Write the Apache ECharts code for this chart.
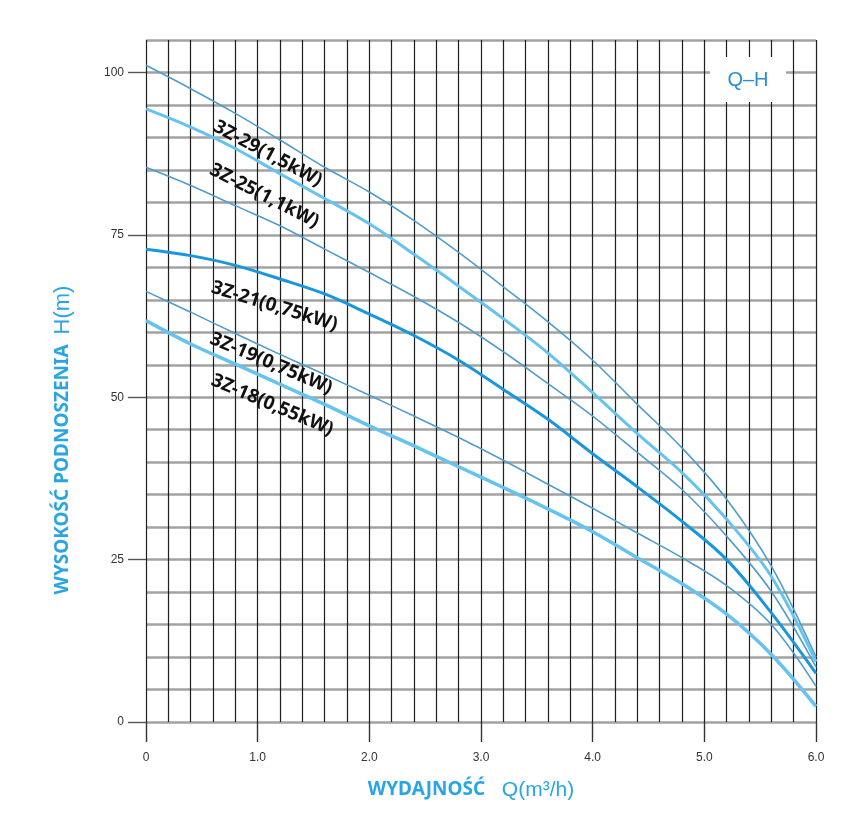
<!DOCTYPE html>
<html>
<head>
<meta charset="utf-8">
<script src="https://cdn.jsdelivr.net/npm/echarts@6/dist/echarts.min.js"></script>
<style>
html,body{margin:0;padding:0;background:#fff;}
#c{width:858px;height:818px;}
</style>
</head>
<body>
<div id="c"></div>
<script>
// Flow rate Q (m3/h) sample points
const q = [0, 0.4, 0.8, 1.2, 1.6, 2.0, 2.4, 2.8, 3.2, 3.6, 4.0, 4.4, 4.8, 5.2, 5.6, 6.0];
// Head H (m) for each curve, top to bottom
const hA = [101.1, 97.5, 93.7, 89.6, 85.4, 81.6, 77.2, 72.3, 67.0, 61.6, 55.7, 48.9, 42.2, 34.3, 24.0, 10.0];
const hB = [94.4, 91.6, 88.3, 84.4, 80.6, 76.7, 72.0, 67.1, 62.1, 56.8, 50.7, 44.4, 38.4, 31.2, 22.4, 9.3];
const hC = [85.4, 82.6, 79.5, 76.4, 72.8, 69.2, 65.5, 61.5, 57.0, 52.1, 47.1, 41.5, 35.8, 28.6, 20.1, 8.5];
const hD = [72.8, 71.8, 70.3, 68.2, 65.9, 62.8, 59.5, 55.7, 51.2, 46.6, 41.3, 36.2, 30.9, 25.0, 16.8, 7.5];
const hE = [66.3, 63.1, 59.8, 56.6, 53.5, 50.3, 47.1, 43.8, 40.3, 36.6, 32.9, 29.1, 25.3, 21.0, 15.0, 5.5];
const hF = [61.8, 58.2, 55.1, 52.0, 48.9, 45.6, 42.5, 39.3, 36.1, 32.8, 29.3, 25.3, 21.3, 16.6, 10.4, 2.4];

const xTicks = [0, 1, 2, 3, 4, 5, 6];
const yTicks = [0, 25, 50, 75, 100];

const curveLabels = ['3Z-29(1,5kW)', '3Z-25(1,1kW)', '3Z-21(0,75kW)', '3Z-19(0,75kW)', '3Z-18(0,55kW)'];
// label anchor in data coords [Q, H] and rotation (deg)
const labelAnchors = [[1.09, 87.5, 28], [1.06, 81.0, 27], [1.15, 64.0, 17], [1.12, 55.2, 23], [1.13, 48.8, 23]];

const BLUE = '#2aa5e3';
const thin = {color: '#4f9dcc', width: 1.6};
const light = {color: '#66c3ef', width: 3};
const bright = {color: '#1897de', width: 3};

function pairs(h) { return q.map((v, i) => [v, h[i]]); }
function mk(h, st) {
  return {type: 'line', data: pairs(h), showSymbol: false, smooth: 0.35,
    xAxisIndex: 0, yAxisIndex: 0,
    lineStyle: {color: st.color, width: st.width}, itemStyle: {color: st.color}, z: 5, silent: true};
}

const chart = echarts.init(document.getElementById('c'), null, {renderer: 'canvas'});
const option = {
  backgroundColor: '#fff',
  animation: false,
  grid: {left: 146, right: 42, top: 40, bottom: 96},
  xAxis: [{
    type: 'value', min: 0, max: 6, interval: 0.2,
    axisLine: {show: false}, axisTick: {show: false}, axisLabel: {show: false},
    splitLine: {show: true, lineStyle: {color: '#1e1e1e', width: 1.2}}
  }, {
    type: 'value', min: 0, max: 6, position: 'bottom',
    axisLine: {show: false}, splitLine: {show: false},
    axisTick: {show: true, customValues: xTicks, length: 20, lineStyle: {color: '#333', width: 1.4}},
    axisLabel: {show: true, customValues: xTicks, margin: 30, color: '#333', fontSize: 12,
      fontFamily: 'Liberation Sans', formatter: v => v === 0 ? '0' : v.toFixed(1)}
  }],
  yAxis: [{
    type: 'value', min: 0, max: 105, interval: 5,
    axisLine: {show: false}, axisTick: {show: false}, axisLabel: {show: false},
    splitLine: {show: true, lineStyle: {color: '#a2a2a2', width: 2.5}}
  }, {
    type: 'value', min: 0, max: 105, position: 'left',
    axisLine: {show: false}, splitLine: {show: false},
    axisTick: {show: true, customValues: yTicks, length: 18, lineStyle: {color: '#555', width: 1.4}},
    axisLabel: {show: true, customValues: yTicks, margin: 22, color: '#333', fontSize: 12,
      fontFamily: 'Liberation Sans'}
  }],
  series: [mk(hA, thin), mk(hB, light), mk(hC, thin), mk(hD, bright), mk(hE, thin), mk(hF, {color: '#66c3ef', width: 3.5})],
  graphic: []
};
chart.setOption(option);

const g = [];
g.push({type: 'rect', shape: {x: 710, y: 57, width: 76, height: 45}, style: {fill: '#fff'}, z: 10});
g.push({type: 'text', x: 748, y: 80, z: 11,
  style: {text: 'Q\u2013H', fill: '#2b8ed3', fontSize: 20, fontFamily: 'Liberation Sans', align: 'center', verticalAlign: 'middle'}});
curveLabels.forEach((t, i) => {
  const a = labelAnchors[i];
  const p = chart.convertToPixel({gridIndex: 0}, [a[0], a[1]]);
  g.push({type: 'text', x: p[0], y: p[1], rotation: -a[2] * Math.PI / 180, z: 12,
    style: {text: t, fill: '#111', fontSize: 19, fontWeight: 'bold', fontFamily: 'Noto Sans',
      align: 'center', verticalAlign: 'middle'}});
});
g.push({type: 'text', x: 471, y: 790, z: 12,
  style: {text: '{b|WYDAJNOŚĆ}     {n|Q(m³/h)}', align: 'center', verticalAlign: 'middle',
    rich: {b: {fill: BLUE, fontSize: 19, fontWeight: 'bold', fontFamily: 'Noto Sans'},
           n: {fill: BLUE, fontSize: 21, fontFamily: 'Liberation Sans'}}}});
g.push({type: 'text', x: 63, y: 440, rotation: Math.PI / 2, z: 12,
  style: {text: '{b|WYSOKOŚĆ PODNOSZENIA}   {n|H(m)}', align: 'center', verticalAlign: 'middle',
    rich: {b: {fill: BLUE, fontSize: 19, fontWeight: 'bold', fontFamily: 'Noto Sans'},
           n: {fill: BLUE, fontSize: 22, fontFamily: 'Liberation Sans'}}}});
chart.setOption({graphic: g});
</script>
</body>
</html>
